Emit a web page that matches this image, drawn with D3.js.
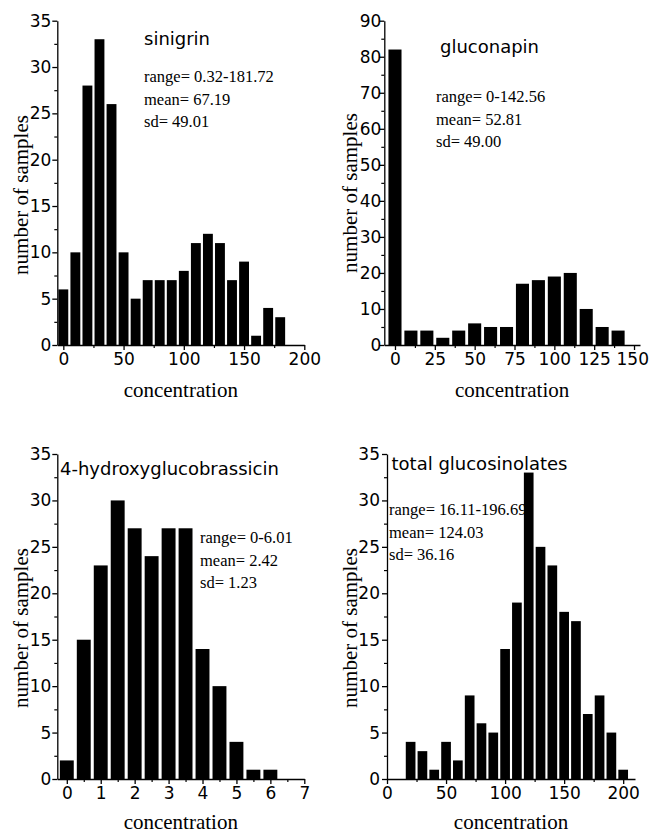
<!DOCTYPE html>
<html>
<head>
<meta charset="utf-8">
<script src="https://cdn.jsdelivr.net/npm/d3@7"></script>
<style>
  html, body { margin: 0; padding: 0; background: #fff; }
  svg { display: block; }
</style>
</head>
<body>
<svg id="chart" width="650" height="833"></svg>
<script>
// ---------------- DATA ----------------
const sinigrinBins   = [0, 10, 20, 30, 40, 50, 60, 70, 80, 90, 100, 110, 120, 130, 140, 150, 160, 170, 180];
const sinigrinCounts = [6, 10, 28, 33, 26, 10, 5, 7, 7, 7, 8, 11, 12, 11, 7, 9, 1, 4, 3];
const sinigrinXTicks = [0, 50, 100, 150, 200];
const sinigrinYTicks = [0, 5, 10, 15, 20, 25, 30, 35];
const sinigrinStats  = ["range= 0.32-181.72", "mean= 67.19", "sd= 49.01"];

const gluconapinBins   = [0, 10, 20, 30, 40, 50, 60, 70, 80, 90, 100, 110, 120, 130, 140];
const gluconapinCounts = [82, 4, 4, 2, 4, 6, 5, 5, 17, 18, 19, 20, 10, 5, 4];
const gluconapinXTicks = [0, 25, 50, 75, 100, 125, 150];
const gluconapinYTicks = [0, 10, 20, 30, 40, 50, 60, 70, 80, 90];
const gluconapinStats  = ["range= 0-142.56", "mean= 52.81", "sd= 49.00"];

const hydroxyBins   = [0, 0.5, 1, 1.5, 2, 2.5, 3, 3.5, 4, 4.5, 5, 5.5, 6];
const hydroxyCounts = [2, 15, 23, 30, 27, 24, 27, 27, 14, 10, 4, 1, 1];
const hydroxyXTicks = [0, 1, 2, 3, 4, 5, 6, 7];
const hydroxyYTicks = [0, 5, 10, 15, 20, 25, 30, 35];
const hydroxyStats  = ["range= 0-6.01", "mean= 2.42", "sd= 1.23"];

const totalBins   = [20, 30, 40, 50, 60, 70, 80, 90, 100, 110, 120, 130, 140, 150, 160, 170, 180, 190, 200];
const totalCounts = [4, 3, 1, 4, 2, 9, 6, 5, 14, 19, 33, 25, 23, 18, 17, 7, 9, 5, 1];
const totalXTicks = [0, 50, 100, 150, 200];
const totalYTicks = [0, 5, 10, 15, 20, 25, 30, 35];
const totalStats  = ["range= 16.11-196.69", "mean= 124.03", "sd= 36.16"];

const titles = ["sinigrin", "gluconapin", "4-hydroxyglucobrassicin", "total glucosinolates"];
const xLabel = "concentration";
const yLabel = "number of samples";

// ---------------- LAYOUT ----------------
const panels = [
  { bins: sinigrinBins, counts: sinigrinCounts, xt: sinigrinXTicks, yt: sinigrinYTicks, stats: sinigrinStats, title: titles[0],
    xDom: [-5, 200], yDom: [0, 35], xr: [57.3, 304.3], yr: [345, 20.7], binW: 10, xMinorStep: 25, yMinorStep: 2.5,
    titlePos: [144, 45], statsPos: [144, 82], ylabX: 28, ylabY: 195, xlabY: 397, yPad: 1 },
  { bins: gluconapinBins, counts: gluconapinCounts, xt: gluconapinXTicks, yt: gluconapinYTicks, stats: gluconapinStats, title: titles[1],
    xDom: [-6.7, 153.75], yDom: [0, 90], xr: [384.3, 640], yr: [345, 20.7], binW: 10, xMinorStep: 12.5, yMinorStep: 5,
    titlePos: [440, 53], statsPos: [436, 102], ylabX: 357, ylabY: 193, xlabY: 397, yPad: -2 },
  { bins: hydroxyBins, counts: hydroxyCounts, xt: hydroxyXTicks, yt: hydroxyYTicks, stats: hydroxyStats, title: titles[2],
    xDom: [-0.28, 7], yDom: [0, 35], xr: [57.3, 304.3], yr: [779, 454], binW: 0.5, xMinorStep: 0.5, yMinorStep: 2.5,
    titlePos: [60, 475], statsPos: [200, 543], ylabX: 28, ylabY: 628, xlabY: 829, yPad: 1 },
  { bins: totalBins, counts: totalCounts, xt: totalXTicks, yt: totalYTicks, stats: totalStats, title: titles[3],
    xDom: [0, 210], yDom: [0, 35], xr: [387, 635], yr: [779, 454], binW: 10, xMinorStep: 25, yMinorStep: 2.5,
    titlePos: [391.5, 470], statsPos: [389, 515], ylabX: 357, ylabY: 628, xlabY: 829, yPad: 2 }
];

const svg = d3.select("#chart");
const sansFont = "'DejaVu Sans', sans-serif";
const serifFont = "'Liberation Serif', 'Times New Roman', serif";

function minorValues(dom, step, majors) {
  const out = [];
  const start = Math.ceil(dom[0] / step) * step;
  for (let v = start; v <= dom[1] + 1e-9; v += step) {
    if (!majors.some(m => Math.abs(m - v) < 1e-9)) out.push(+v.toFixed(6));
  }
  return out;
}

panels.forEach(p => {
  const g = svg.append("g");
  const x = d3.scaleLinear().domain(p.xDom).range(p.xr);
  const y = d3.scaleLinear().domain(p.yDom).range(p.yr);

  // stats text (drawn below bars)
  const st = g.append("text")
    .attr("x", p.statsPos[0]).attr("y", p.statsPos[1])
    .attr("font-family", serifFont).attr("font-size", 16.5).attr("fill", "#000");
  p.stats.forEach((s, i) => {
    st.append("tspan").attr("x", p.statsPos[0]).attr("dy", i === 0 ? 0 : 22.5).text(s);
  });

  // bars
  const bw = Math.abs(x(p.binW) - x(0)) * 0.82;
  g.selectAll("rect.bar").data(p.bins.map((b, i) => ({ b, c: p.counts[i] })))
    .enter().append("rect").attr("class", "bar")
    .attr("x", d => x(d.b) - bw / 2)
    .attr("width", bw)
    .attr("y", d => y(d.c))
    .attr("height", d => y(0) - y(d.c))
    .attr("fill", "#000");

  // minor ticks
  const xMinor = minorValues(p.xDom, p.xMinorStep, p.xt);
  const yMinor = minorValues(p.yDom, p.yMinorStep, p.yt);
  g.append("g").attr("transform", `translate(0,${p.yr[0]})`)
    .call(d3.axisBottom(x).tickValues(xMinor).tickSize(3).tickFormat("").tickSizeOuter(0))
    .call(a => a.select(".domain").remove())
    .selectAll("line").attr("stroke-width", 1.2);
  g.append("g").attr("transform", `translate(${p.xr[0]},0)`)
    .call(d3.axisLeft(y).tickValues(yMinor).tickSize(3).tickFormat("").tickSizeOuter(0))
    .call(a => a.select(".domain").remove())
    .selectAll("line").attr("stroke-width", 1.2);

  // major axes
  const xa = g.append("g").attr("transform", `translate(0,${p.yr[0]})`)
    .call(d3.axisBottom(x).tickValues(p.xt).tickSize(5).tickPadding(3).tickSizeOuter(0).tickFormat(d3.format("d")));
  const ya = g.append("g").attr("transform", `translate(${p.xr[0]},0)`)
    .call(d3.axisLeft(y).tickValues(p.yt).tickSize(5).tickPadding(p.yPad).tickSizeOuter(0).tickFormat(d3.format("d")));
  [xa, ya].forEach(a => {
    a.select(".domain").attr("stroke-width", 1.3);
    a.selectAll("line").attr("stroke-width", 1.3);
    a.selectAll("text").attr("font-family", sansFont).attr("font-size", 17).attr("fill", "#000");
  });
  // keep the right-most x tick label inside the page
  xa.selectAll(".tick text").each(function () {
    const bb = this.getBBox();
    const tx = +this.parentNode.getAttribute("transform").match(/translate\(([-\d.]+)/)[1];
    const over = tx + bb.x + bb.width - 649;
    if (over > 0) d3.select(this).attr("dx", -over);
  });

  // title
  g.append("text").attr("x", p.titlePos[0]).attr("y", p.titlePos[1])
    .attr("font-family", sansFont).attr("font-size", 18).attr("fill", "#000").text(p.title);

  // axis labels
  g.append("text")
    .attr("transform", `translate(${p.ylabX},${p.ylabY}) rotate(-90)`)
    .attr("text-anchor", "middle")
    .attr("font-family", serifFont).attr("font-size", 21).attr("fill", "#000").text(yLabel);
  g.append("text")
    .attr("x", (p.xr[0] + p.xr[1]) / 2).attr("y", p.xlabY)
    .attr("text-anchor", "middle")
    .attr("font-family", serifFont).attr("font-size", 21).attr("fill", "#000").text(xLabel);
});
</script>
</body>
</html>
